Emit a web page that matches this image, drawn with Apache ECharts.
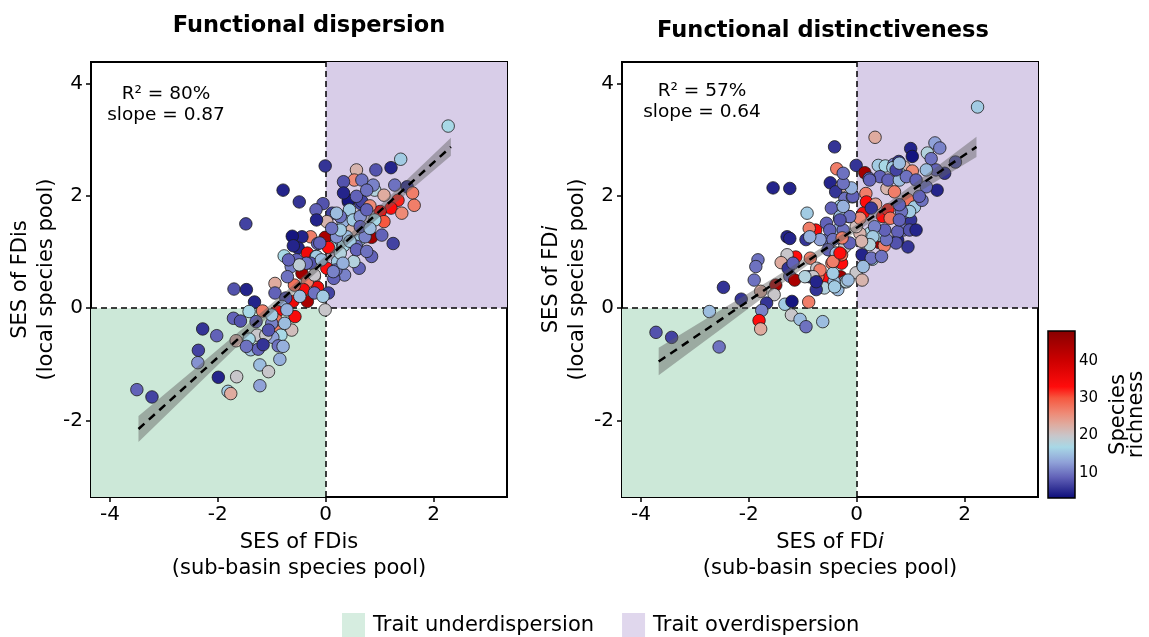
<!DOCTYPE html>
<html><head><meta charset="utf-8">
<script src="https://cdn.jsdelivr.net/npm/echarts@6/dist/echarts.min.js"></script>
<style>html,body{margin:0;padding:0;background:#fff}#c{width:1149px;height:637px}</style>
</head><body><div id="c"></div>
<script>
// ---------- data ----------
const panelTitles = ['Functional dispersion', 'Functional distinctiveness'];
const r2Labels = ['80%', '57%'];
const slopeLabels = ['0.87', '0.64'];
const xTicks = [-4, -2, 0, 2];
const yTicks = [-2, 0, 2, 4];
const xRange = [-4.35, 3.36];
const yRange = [-3.36, 4.38];
const legendNames = ['Trait underdispersion', 'Trait overdispersion'];

// species richness colour scale
const cbRange = [3.3, 48];
const cbTicks = [10, 20, 30, 40];
const richStops  = [3.3, 9, 13, 17, 20, 23, 26, 30, 33, 40, 48];
const richColors = ['#0a0a78','#6262b8','#90a2d8','#a8d8e6','#c8c6ca','#dfab9f','#ee8a76','#f65840','#ff0c0c','#cc0000','#870000'];

// [SES sub-basin, SES local, species richness]
const dispersionPoints = [
[2.27,3.24,17],[1.39,2.65,16],[1.21,2.50,5],[0.93,2.46,8],[0.57,2.46,22],[0.53,2.28,26],[0.33,2.25,8],[-0.01,2.53,6],[-0.79,2.10,5],[-0.49,1.89,6],[-1.48,1.50,7],[-0.05,1.86,8],[-0.18,1.75,9],[0.12,1.69,7],[0.42,1.89,6],[0.65,1.86,7],[0.91,2.10,18],[1.28,2.19,10],[1.51,2.16,6],[1.61,2.05,27],[1.64,1.83,27],[1.34,1.92,32],[1.21,1.78,33],[1.41,1.69,26],[1.08,2.01,23],[1.01,1.72,34],[1.08,1.54,30],[0.91,1.57,17],[0.85,1.26,45],[1.25,1.15,7],[0.85,0.92,9],[0.62,0.71,9],[0.52,0.83,18],[0.35,0.59,11],[0.15,0.53,9],[0.22,0.83,16],[0.48,1.39,22],[0.42,1.69,16],[0.32,1.54,14],[0.62,1.21,16],[0.28,1.09,12],[0.09,1.09,17],[-0.01,1.26,44],[0.05,1.08,33],[0.02,1.54,22],[-0.28,1.27,27],[-0.44,1.27,5],[-0.62,1.28,4],[-0.51,1.07,5],[-0.34,0.98,35],[-0.77,0.93,17],[-0.64,0.74,11],[-0.41,0.77,20],[-0.18,0.92,12],[-0.15,1.15,9],[-0.44,0.62,45],[-0.21,0.56,22],[0.02,0.71,33],[-0.15,0.37,35],[-0.34,0.47,27],[-0.41,0.33,34],[-0.58,0.41,28],[-0.34,0.12,44],[-0.61,0.12,35],[-0.94,0.44,23],[-0.94,0.27,9],[-0.71,0.56,10],[-0.74,0.18,8],[0.05,0.27,7],[-0.01,-0.03,20],[-1.70,0.34,8],[-1.47,0.33,5],[-1.32,0.11,5],
[0.67,2.28,10],[0.42,1.92,4],[0.44,1.75,16],[0.67,1.90,7],[0.88,2.19,11],[0.82,1.82,26],[0.51,1.57,16],[0.33,1.11,17],[0.57,1.10,10],[0.73,1.27,11],[1.04,1.30,9],[0.39,1.27,15],[0.20,1.27,12],[0.27,1.63,10],[0.64,1.63,12],[0.76,1.75,9],
[0.33,2.05,5],[0.57,1.99,9],[0.76,2.10,10],[0.20,1.69,15],[0.27,1.39,16],[0.64,1.45,9],[0.82,1.42,15],[0.45,1.19,16],[0.57,1.04,9],[0.27,0.98,18],[0.76,1.01,10],[-0.17,1.57,5],[0.11,1.42,10],[-0.11,1.16,9],[-0.60,1.11,5],[-0.17,0.92,16],
[-0.54,0.86,9],[-0.28,0.80,8],[-0.08,0.86,15],[0.19,0.68,10],[0.32,0.80,14],[-0.21,0.27,10],[-0.05,0.21,16],[-0.48,0.21,15],[-0.81,0.03,14],
[-1.42,-0.06,17],[-1.17,-0.05,27],[-1.71,-0.18,9],[-1.58,-0.23,8],[-2.28,-0.37,6],[-2.02,-0.49,9],[-2.36,-0.75,7],[-2.37,-0.97,12],[-1.66,-0.58,22],[-1.99,-1.23,5],[-1.65,-1.22,20],[-1.22,-1.01,15],[-1.06,-1.13,20],[-1.22,-1.38,13],[-1.81,-1.48,16],[-1.76,-1.52,23],[-3.50,-1.45,9],[-3.22,-1.58,7],[-0.90,-0.06,34],[-0.91,-0.33,27],[-0.92,-0.21,28],[-0.57,-0.15,34],[-0.63,-0.39,21],[-0.83,-0.48,17],[-0.98,-0.52,13],[-0.88,-0.67,10],[-0.85,-0.91,14],[-1.27,-0.48,20],[-1.11,-0.48,20],[-1.42,-0.55,17],[-1.39,-0.74,15],[-1.25,-0.73,9],[-1.16,-0.65,6],[-1.47,-0.68,10],[-1.29,-0.24,9],[-1.00,-0.27,11],[-1.06,-0.39,8],[-0.76,-0.27,15],[-0.72,-0.03,14],[-1.00,-0.12,16],[-0.79,-0.68,14],[0.14,0.65,11],[-0.21,0.59,20],[-0.36,0.80,10],[-0.49,0.77,19],[-0.69,0.86,9]
];
const distinctPoints = [
[2.24,3.58,16],[0.34,3.04,23],[-0.41,2.87,6],[1.45,2.94,13],[1.54,2.85,11],[1.31,2.76,18],[1.00,2.84,5],[1.03,2.70,4],[1.38,2.66,10],[1.83,2.60,8],[1.63,2.40,6],[1.49,2.10,5],[-0.01,2.54,6],[0.15,2.41,45],[-0.37,2.48,27],[-0.49,2.23,5],[-0.28,2.17,22],[-0.39,2.07,6],[-1.55,2.14,5],[-1.24,2.13,5],[0.40,2.54,16],[0.53,2.53,17],[0.69,2.56,11],[0.88,2.51,22],[1.03,2.44,26],[0.79,2.40,16],[0.56,2.13,22],[0.70,2.07,27],[0.17,2.04,27],[0.18,1.89,33],[0.35,1.85,24],[0.12,1.69,34],[0.48,1.63,33],[0.58,1.75,32],[0.62,1.60,28],[0.95,1.93,28],[1.07,1.80,16],[1.21,1.92,10],[1.00,1.57,6],[0.86,1.69,9],[0.86,1.39,10],[0.95,1.09,6],[0.76,1.21,5],[0.41,1.17,45],[0.51,1.11,27],[0.41,1.30,25],[0.24,1.33,17],[0.06,1.33,22],[-0.01,1.45,21],[0.06,1.60,26],[-0.15,1.63,27],[-0.32,1.60,11],[-0.22,1.95,10],[-0.08,1.98,15],[-0.28,1.78,9],[-0.35,1.39,14],[-0.27,1.22,10],[-0.56,1.51,9],[-0.76,1.39,34],[-0.88,1.42,27],[-0.92,1.69,16],[-1.29,1.27,5],[-1.24,1.24,5],[-0.94,1.22,6],[-0.55,1.21,10],[-0.42,0.98,11],[-0.22,1.09,20],[0.10,0.95,5],[0.29,0.87,16],[-0.01,0.63,20],[0.10,0.50,22],[-0.28,0.80,33],[-0.28,0.95,28],[-0.30,0.56,45],[-0.46,0.80,27],[-0.58,0.53,33],[-0.72,0.56,28],[-0.60,0.36,18],[-0.35,0.33,15],[-0.22,0.47,15],[-0.42,0.47,15],[-0.86,0.89,27],[-1.13,0.91,33],[-1.29,0.95,20],[-1.40,0.81,23],[-1.24,0.57,10],[-1.15,0.50,44],[-0.88,0.56,6],[-0.74,0.71,20],[-1.83,0.86,10],[-1.87,0.74,10],[-1.90,0.50,10],[-2.47,0.37,6],[-1.50,0.41,44],[-1.78,0.30,23],[-1.53,0.24,20],[-2.14,0.16,6],[-1.67,0.09,6],[-1.33,0.07,16],[-1.20,0.12,4],[-0.89,0.11,27],[-2.73,-0.06,15],
[0.78,2.61,6],[0.67,2.50,16],[0.43,2.34,9],[0.23,2.31,9],[-0.31,1.81,16],[-0.47,1.78,9],[-0.31,1.63,15],[0.43,1.30,17],[0.76,1.36,9],[0.98,1.39,8],
[0.24,2.28,9],[0.58,2.28,9],[0.79,2.28,15],[0.92,2.34,10],[0.73,2.46,7],[0.79,2.58,15],[1.10,2.28,9],[1.29,2.16,10],[1.16,1.99,9],[0.98,1.72,16],[0.83,1.72,10],[0.79,1.57,9],[0.73,1.16,8],[0.55,1.22,10],[0.52,1.39,9],[0.33,1.45,11],[0.30,1.27,16],[0.24,1.13,18],[0.09,1.19,22],[0.27,0.89,10],[0.46,0.92,10],[-0.13,1.63,10],[-0.25,1.81,14],[-0.07,1.99,9],[-0.10,2.14,14],[-0.25,2.22,10],[-0.25,1.39,10],[-0.50,1.39,9],[-0.31,1.57,8],[-0.44,1.22,10],[-0.68,1.22,13],[-0.87,1.27,14],[-0.53,1.04,9],[-0.38,0.98,15],[-0.13,1.16,9],[0.12,0.74,15],[-0.44,0.62,16],[-0.68,0.68,27],[-0.81,0.56,20],[-0.96,0.56,18],[-0.41,0.38,16],[-0.19,0.47,18],[-0.27,1.25,27],[1.47,2.46,9],[1.29,2.46,15],[-0.25,2.40,10],[1.10,1.39,5],[0.27,1.78,6],[0.79,1.84,9],
[-3.72,-0.43,8],[-3.43,-0.52,7],[-2.55,-0.69,10],[-1.76,-0.04,11],[-1.81,-0.22,33],[-1.78,-0.37,23],[-1.21,-0.12,20],[-1.05,-0.20,15],[-0.94,-0.33,10],[-0.63,-0.24,15],[-1.27,0.71,6],[-1.18,0.80,9],[-0.44,0.83,27],[-0.16,0.50,15],[-0.75,0.33,6],[-0.75,0.47,5],[-0.31,0.98,33]
];

// fitted regression lines
const dispFitX = [-3.47, 2.32];
const dispFitY = [-2.15, 2.87];
const distFitX = [-3.67, 2.22];
const distFitY = [-0.95, 2.87];
// confidence bands
const dispBandX  = [-3.47, -2.5, -1.5, -0.5, 0.5, 1.5, 2.32];
const dispBandLo = [-2.38, -1.48, -0.55, 0.355, 1.21, 2.04, 2.71];
const dispBandHi = [-1.92, -1.14, -0.33, 0.495, 1.37, 2.28, 3.03];
const distBandX  = [-3.67, -2.5, -1.5, -0.5, 0.5, 1.5, 2.22];
const distBandLo = [-1.195, -0.36, 0.36, 1.05, 1.68, 2.27, 2.69];
const distBandHi = [-0.705, -0.02, 0.56, 1.17, 1.82, 2.53, 3.05];

// ---------- styling ----------
const FONT = '"DejaVu Sans", Verdana, sans-serif';
const underColor = '#cce8d8';
const overColor = '#d8cde8';

function hex2rgb(h){return [parseInt(h.slice(1,3),16),parseInt(h.slice(3,5),16),parseInt(h.slice(5,7),16)];}
function richColor(v){
  if (v <= richStops[0]) return richColors[0];
  if (v >= richStops[richStops.length-1]) return richColors[richColors.length-1];
  for (let i=0;i<richStops.length-1;i++){
    if (v>=richStops[i] && v<=richStops[i+1]){
      const t=(v-richStops[i])/(richStops[i+1]-richStops[i]);
      const a=hex2rgb(richColors[i]), b=hex2rgb(richColors[i+1]);
      return 'rgb('+a.map((c,k)=>Math.round(c+(b[k]-c)*t)).join(',')+')';
    }
  }
}
const gradStops = richStops.map((v,i)=>({offset:(cbRange[1]-v)/(cbRange[1]-cbRange[0]), color:richColors[i]})).reverse();

const chart = echarts.init(document.getElementById('c'));

const nameStyle = {fontSize:21, color:'#000', fontFamily:FONT, lineHeight:26,
  rich:{it:{fontStyle:'italic', fontSize:21, fontFamily:FONT, color:'#000'}}};

function xAx(grid, name, gap){
  return {type:'value', gridIndex:grid, min:xRange[0], max:xRange[1],
    splitLine:{show:false}, axisLine:{show:false, onZero:false},
    axisTick:{show:true, customValues:xTicks, length:5, lineStyle:{color:'#000', width:1.5}},
    axisLabel:{customValues:xTicks, fontSize:20, color:'#000', margin:8, fontFamily:FONT},
    name:name, nameLocation:'middle', nameGap:gap, nameTextStyle:nameStyle};
}
function yAx(grid, name, gap){
  return {type:'value', gridIndex:grid, min:yRange[0], max:yRange[1],
    splitLine:{show:false}, axisLine:{show:false, onZero:false},
    axisTick:{show:true, customValues:yTicks, length:5, lineStyle:{color:'#000', width:1.5}},
    axisLabel:{customValues:yTicks, fontSize:20, color:'#000', margin:8, fontFamily:FONT},
    name:name, nameLocation:'middle', nameGap:gap, nameRotate:90, nameTextStyle:nameStyle};
}

function quadrantSeries(gi){
  return [
    {name:legendNames[0], type:'scatter', xAxisIndex:gi, yAxisIndex:gi, data:[], itemStyle:{color:underColor}, silent:true,
      markArea:{silent:true, z:1, itemStyle:{color:underColor}, data:[[{coord:[xRange[0], yRange[0]]},{coord:[0,0]}]]}},
    {name:legendNames[1], type:'scatter', xAxisIndex:gi, yAxisIndex:gi, data:[], itemStyle:{color:overColor}, silent:true,
      markArea:{silent:true, z:1, itemStyle:{color:overColor}, data:[[{coord:[0,0]},{coord:[xRange[1], yRange[1]]}]]},
      markLine:{silent:true, z:2, symbol:['none','none'], label:{show:false},
        lineStyle:{color:'#000', type:[6,4], width:1.5}, data:[{xAxis:0},{yAxis:0}]}}
  ];
}
function pointSeries(gi, pts){
  return {type:'scatter', xAxisIndex:gi, yAxisIndex:gi, data:pts, symbolSize:12.5, z:3, silent:true,
    itemStyle:{color:p=>richColor(p.value[2]), borderColor:'#1a1a1a', borderWidth:0.8, opacity:1}};
}
function bandSeries(gi, bx, lo, hi){
  return {type:'custom', xAxisIndex:gi, yAxisIndex:gi, z:4, silent:true, data:[[0,0]],
    renderItem:(params, api)=>{
      const pts=[];
      for (let i=0;i<bx.length;i++) pts.push(api.coord([bx[i], hi[i]]));
      for (let i=bx.length-1;i>=0;i--) pts.push(api.coord([bx[i], lo[i]]));
      return {type:'polygon', shape:{points:pts}, style:{fill:'rgba(95,95,95,0.45)'}};
    }};
}
function fitSeries(gi, fx, fy){
  return {type:'line', xAxisIndex:gi, yAxisIndex:gi, z:5, silent:true, symbol:'none',
    data:fx.map((x,i)=>[x, fy[i]]), lineStyle:{color:'#000', width:2.5, type:[8,6]}};
}

const option = {
  animation:false,
  backgroundColor:'#fff',
  textStyle:{fontFamily:FONT},
  grid:[
    {left:91, top:62, width:416, height:435, show:true, borderColor:'#000', borderWidth:2, backgroundColor:'transparent'},
    {left:622, top:62, width:416, height:435, show:true, borderColor:'#000', borderWidth:2, backgroundColor:'transparent'},
    {left:1048, top:331, width:27, height:167, show:true, borderColor:'#000', borderWidth:1.5,
      backgroundColor:new echarts.graphic.LinearGradient(0,0,0,1, gradStops)}
  ],
  xAxis:[
    xAx(0, 'SES of FDis\n(sub-basin species pool)', 32),
    xAx(1, 'SES of FD{it|i}\n(sub-basin species pool)', 29),
    {type:'value', gridIndex:2, show:false, min:0, max:1}
  ],
  yAxis:[
    yAx(0, 'SES of FDis\n(local species pool)', 31),
    yAx(1, 'SES of FD{it|i}\n(local species pool)', 31),
    {type:'value', gridIndex:2, position:'right', min:cbRange[0], max:cbRange[1],
      splitLine:{show:false}, axisLine:{show:false, onZero:false}, axisTick:{show:false},
      axisLabel:{customValues:cbTicks, fontSize:15, color:'#000', margin:4, fontFamily:FONT},
      name:'Species\nrichness', nameLocation:'middle', nameRotate:90, nameGap:35,
      nameTextStyle:{fontSize:21, color:'#000', fontFamily:FONT, lineHeight:18}}
  ],
  legend:{data:legendNames, left:342, top:613, padding:0, icon:'rect', itemWidth:23, itemHeight:25, itemGap:28,
    selectedMode:false, textStyle:{fontSize:21, color:'#000', fontFamily:FONT, padding:[3,0,0,3]}},
  graphic:[
    {type:'text', x:309, y:26, style:{text:panelTitles[0], font:'bold 22.5px '+FONT, fill:'#000', align:'center', verticalAlign:'middle'}},
    {type:'text', x:823, y:31, style:{text:panelTitles[1], font:'bold 22.5px '+FONT, fill:'#000', align:'center', verticalAlign:'middle'}},
    {type:'text', x:166, y:105, style:{text:'R\u00b2 = '+r2Labels[0]+'\nslope = '+slopeLabels[0], font:'18.5px '+FONT, lineHeight:21, fill:'#000', align:'center', verticalAlign:'middle'}},
    {type:'text', x:702, y:102, style:{text:'R\u00b2 = '+r2Labels[1]+'\nslope = '+slopeLabels[1], font:'18.5px '+FONT, lineHeight:21, fill:'#000', align:'center', verticalAlign:'middle'}}
  ],
  series:[
    ...quadrantSeries(0), ...quadrantSeries(1),
    pointSeries(0, dispersionPoints), pointSeries(1, distinctPoints),
    bandSeries(0, dispBandX, dispBandLo, dispBandHi), bandSeries(1, distBandX, distBandLo, distBandHi),
    fitSeries(0, dispFitX, dispFitY), fitSeries(1, distFitX, distFitY)
  ]
};
chart.setOption(option);
</script>
</body></html>
